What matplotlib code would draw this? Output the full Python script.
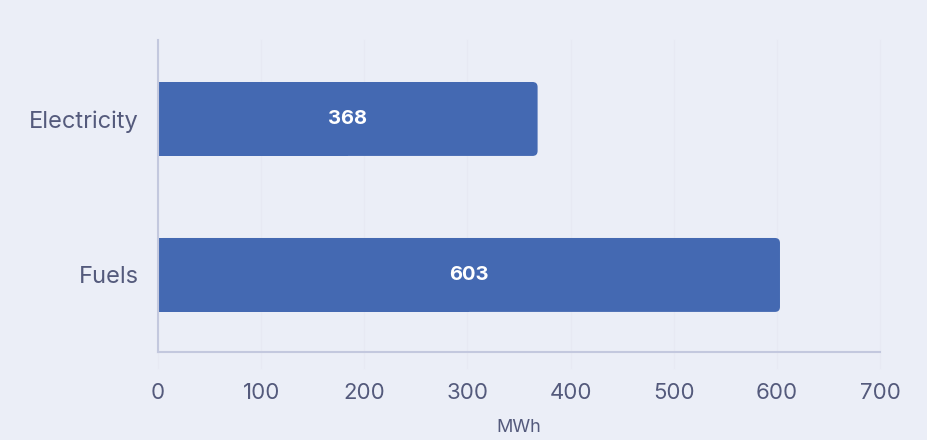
import matplotlib.pyplot as plt
from matplotlib.patches import FancyBboxPatch, Rectangle
from matplotlib.transforms import blended_transform_factory

categories = ['Electricity', 'Fuels']
values = [368, 603]
xticks = [0, 100, 200, 300, 400, 500, 600, 700]
xlabel = 'MWh'

bg = '#EBEEF7'
bar_color = '#4469B2'
text_color = '#545A7C'
axis_color = '#C3C8DE'
grid_color = '#E7E9F3'

plt.rcParams['font.family'] = ['Inter', 'DejaVu Sans']

fig = plt.figure(figsize=(9.28, 4.4), dpi=100)
fig.patch.set_facecolor(bg)
ax = fig.add_axes([0.1703, 0.2, 0.778, 0.709])
ax.set_facecolor(bg)

ax.set_xlim(0, 700)
ax.set_ylim(1.494, -0.506)

# faint vertical grid, running a bit below the axis line
trans = blended_transform_factory(ax.transData, ax.transAxes)
for t in xticks:
    ax.plot([t, t], [-0.05, 1.0], color=grid_color, lw=1, transform=trans,
            clip_on=False, zorder=0)

bar_h = 0.474
# px -> data units for rounded corners
x_per_px = 700 / 722
y_per_px = 2 / 312
r = 5 * x_per_px
aspect = y_per_px / x_per_px

for i, v in enumerate(values):
    y0 = i - bar_h / 2
    ax.add_patch(FancyBboxPatch((0, y0), v, bar_h,
                                boxstyle=f'round,pad=0,rounding_size={r}',
                                mutation_aspect=aspect, fc=bar_color, ec='none',
                                zorder=2))
    # square off the left end
    ax.add_patch(Rectangle((0, y0), v / 2, bar_h, fc=bar_color, ec='none', zorder=2))
    ax.text(v / 2, i, str(v), ha='center', va='center', color='white',
            fontsize=14.5, fontweight='bold', zorder=3)

ax.set_yticks(range(len(categories)))
ax.set_yticklabels(categories)
ax.set_xticks(xticks)
ax.tick_params(axis='both', length=0, labelcolor=text_color)
ax.tick_params(axis='x', pad=22, labelsize=16)
ax.tick_params(axis='y', pad=14, labelsize=17)

for s in ['top', 'right']:
    ax.spines[s].set_visible(False)
for s in ['left', 'bottom']:
    ax.spines[s].set_color(axis_color)
    ax.spines[s].set_linewidth(1.5)

ax.set_xlabel(xlabel, fontsize=13, color=text_color, labelpad=12)

fig.savefig('out.png', dpi=100, facecolor=bg)
